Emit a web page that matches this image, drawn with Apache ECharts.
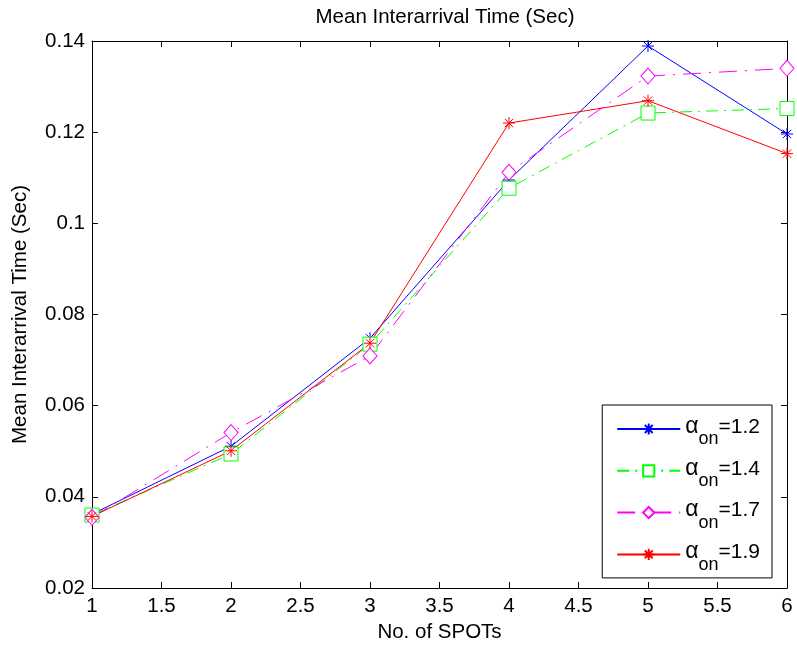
<!DOCTYPE html>
<html><head><meta charset="utf-8">
<script src="https://cdn.jsdelivr.net/npm/echarts@6/dist/echarts.min.js"></script>
<style>html,body{margin:0;padding:0;background:#fff}#c{width:797px;height:649px}</style>
</head><body><div id="c"></div>
<script>
const spots = [1, 2, 3, 4, 5, 6];
const a12 = [0.0362, 0.0511, 0.0748, 0.1095, 0.1389, 0.1196];
const a14 = [0.0360, 0.0494, 0.0735, 0.1077, 0.1242, 0.1252];
const a17 = [0.0355, 0.0541, 0.0709, 0.1112, 0.1323, 0.1340];
const a19 = [0.0357, 0.0501, 0.0737, 0.1220, 0.1269, 0.1153];
const names = ['1.2', '1.4', '1.7', '1.9'];

const FONT = 'Liberation Sans, Arial, sans-serif';
const FS = 20.5;
const star = 'path://M10,0L10,20M0,10L20,10M3,3L17,17M3,17L17,3';
function pairs(v){ return spots.map((x,i)=>[x, v[i]]); }
function ser(name, data, color, symbol, size, dash){
  return {
    name: name, type: 'line', data: pairs(data),
    symbol: symbol, symbolSize: size,
    lineStyle: {color: color, width: 1, type: dash},
    itemStyle: {color: symbol===star ? color : '#fff', borderColor: color, borderWidth: 1},
    emphasis: {disabled: true}, animation: false, z: 3
  };
}
const chart = echarts.init(document.getElementById('c'));
const tickCommon = {axisTick: {inside: true, length: 6, lineStyle: {color: '#000'}}, axisLine: {lineStyle: {color: '#000', width: 1}}, splitLine: {show: false}};
chart.setOption({
  animation: false,
  title: {text: 'Mean Interarrival Time (Sec)', left: 440, top: 2, textAlign: 'center',
    textStyle: {fontFamily: FONT, fontSize: FS, fontWeight: 'normal', color: '#000'}},
  grid: {left: 92, right: 10, top: 41, bottom: 61},
  xAxis: [
    Object.assign({type: 'value', min: 1, max: 6, interval: 0.5, name: 'No. of SPOTs', nameLocation: 'middle', nameGap: 33,
      nameTextStyle: {fontFamily: FONT, fontSize: FS, color: '#000'},
      axisLabel: {fontFamily: FONT, fontSize: FS, color: '#000', margin: 8}}, tickCommon),
    Object.assign({type: 'value', position: 'top', min: 1, max: 6, interval: 0.5, axisLabel: {show: false}}, tickCommon)
  ],
  yAxis: [
    Object.assign({type: 'value', min: 0.02, max: 0.14, interval: 0.02, name: 'Mean Interarrival Time (Sec)', nameLocation: 'middle', nameGap: 61,
      nameTextStyle: {fontFamily: FONT, fontSize: FS, color: '#000'},
      axisLabel: {fontFamily: FONT, fontSize: FS, color: '#000', margin: 7, formatter: v => String(+v.toFixed(2))}}, tickCommon),
    Object.assign({type: 'value', position: 'right', min: 0.02, max: 0.14, interval: 0.02, axisLabel: {show: false}}, tickCommon)
  ],
  legend: {
    orient: 'vertical', right: 25, top: 405,
    backgroundColor: '#fff', borderColor: '#000', borderWidth: 1,
    padding: [8, 12, 4, 14], itemGap: 6.3, itemWidth: 63, itemHeight: 14,
    data: names.map(n=>'a' + n),
    formatter: n => '{a|α}{s|on}{b|=' + n.slice(1) + '}',
    textStyle: {fontFamily: FONT, color: '#000', rich: {
      a: {fontSize: 23, lineHeight: 32, fontFamily: FONT, color: '#000', verticalAlign: 'top', padding: [2,0,0,0]},
      s: {fontSize: 18, lineHeight: 32, fontFamily: FONT, color: '#000', verticalAlign: 'top', padding: [17.5,0,0,0]},
      b: {fontSize: 21, lineHeight: 32, fontFamily: FONT, color: '#000', verticalAlign: 'top', padding: [3.5,0,0,0]}
    }}
  },
  series: [
    ser('a1.2', a12, '#0000ff', star, 12, 'solid'),
    ser('a1.4', a14, '#00ff00', 'rect', 14, [12, 6, 2, 6]),
    ser('a1.7', a17, '#ff00ff', 'diamond', [14, 16], [18, 8, 2, 8]),
    ser('a1.9', a19, '#ff0000', star, 12, 'solid')
  ]
});
</script></body></html>
